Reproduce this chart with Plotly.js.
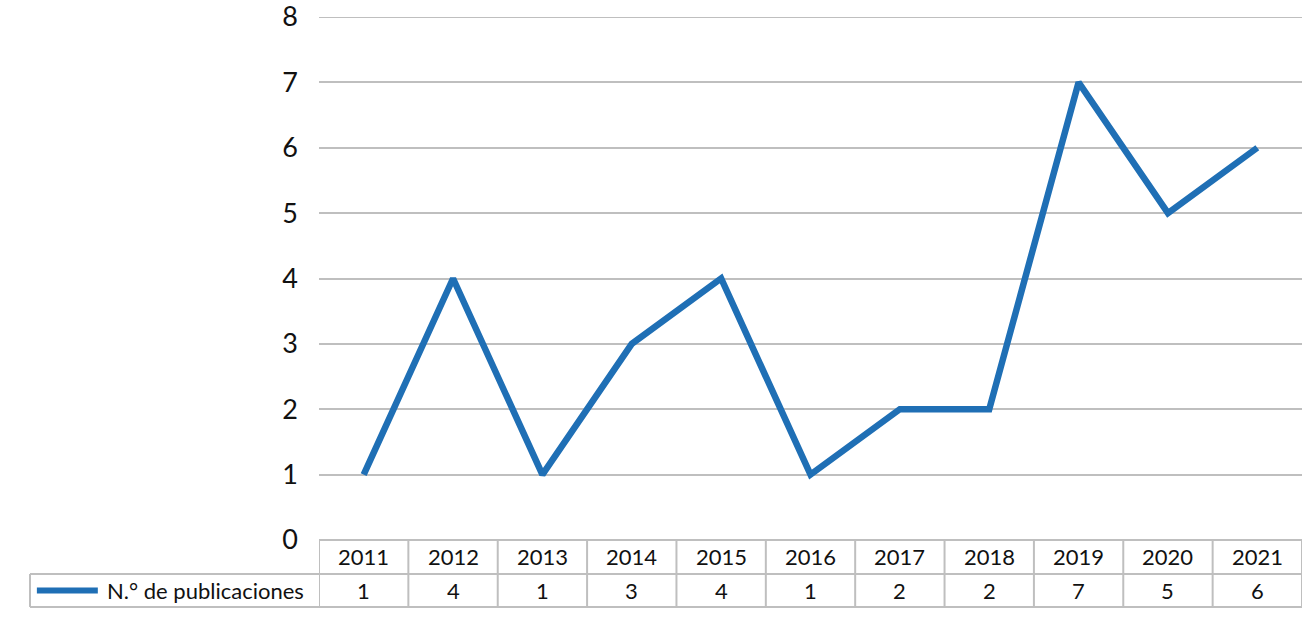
<!DOCTYPE html>
<html>
<head>
<meta charset="utf-8">
<script src="https://cdn.plot.ly/plotly-3.0.1.min.js"></script>
<style>
  html, body { margin: 0; padding: 0; background: #fff; }
  #chart { width: 1310px; height: 619px; }
</style>
</head>
<body>
<div id="chart"></div>
<script>
var years = ['2011', '2012', '2013', '2014', '2015', '2016', '2017', '2018', '2019', '2020', '2021'];
var publicaciones = [1, 4, 1, 3, 4, 1, 2, 2, 7, 5, 6];
var serieName = 'N.° de publicaciones';

var blue = '#1f6fb5';
var grey = '#bfbfbf';
var font = 'Lato, "Open Sans", sans-serif';
var ink = '#111';

var trace = {
    x: years,
    y: publicaciones,
    type: 'scatter',
    mode: 'lines',
    name: serieName,
    line: {color: blue, width: 6.5},
    hoverinfo: 'x+y'
};

// data table under the plot (Excel style)
var rowTop = -0.065, rowBottom = -0.128;   // paper coords
var rowMid = (rowTop + rowBottom) / 2;
var shapes = [];
var annotations = [];

// top gridline (y = 8) sits on the plot edge
shapes.push({type: 'line', xref: 'paper', yref: 'y', x0: 0, x1: 1, y0: 8, y1: 8,
    line: {color: grey, width: 2}});

// horizontal lines of the table
shapes.push({type: 'line', xref: 'paper', yref: 'paper', x0: 0, x1: 1, y0: 0, y1: 0,
    line: {color: grey, width: 2}});
shapes.push({type: 'line', xref: 'paper', yref: 'paper', x0: -0.294, x1: 1, y0: rowTop, y1: rowTop,
    line: {color: grey, width: 2}});
shapes.push({type: 'line', xref: 'paper', yref: 'paper', x0: -0.294, x1: 1, y0: rowBottom, y1: rowBottom,
    line: {color: grey, width: 2}});
shapes.push({type: 'line', xref: 'paper', yref: 'paper', x0: -0.294, x1: -0.294, y0: rowTop, y1: rowBottom,
    line: {color: grey, width: 2}});

// vertical separators between the year columns
for (var i = 0; i <= years.length; i++) {
    shapes.push({type: 'line', xref: 'x', yref: 'paper', x0: i - 0.5, x1: i - 0.5, y0: 0, y1: rowBottom,
        line: {color: grey, width: 2}});
}

// legend key in the first cell
shapes.push({type: 'line', xref: 'paper', yref: 'paper', x0: -0.287, x1: -0.225,
    y0: rowMid, y1: rowMid, line: {color: blue, width: 6}});
annotations.push({xref: 'paper', yref: 'paper', x: -0.218, y: rowMid,
    text: serieName, showarrow: false, xanchor: 'left', yanchor: 'middle',
    font: {family: font, size: 22, color: ink}});

for (var k = 0; k < years.length; k++) {
    annotations.push({xref: 'x', yref: 'paper', x: k, y: rowTop / 2,
        text: years[k], showarrow: false, xanchor: 'center', yanchor: 'middle',
        font: {family: font, size: 22, color: ink}});
    annotations.push({xref: 'x', yref: 'paper', x: k, y: rowMid,
        text: String(publicaciones[k]), showarrow: false, xanchor: 'center', yanchor: 'middle',
        font: {family: font, size: 22, color: ink}});
}

var layout = {
    width: 1310,
    height: 619,
    margin: {l: 319, r: 8, t: 17, b: 79},
    paper_bgcolor: '#fff',
    plot_bgcolor: '#fff',
    showlegend: false,
    xaxis: {
        type: 'category',
        range: [-0.5, years.length - 0.5],
        showticklabels: false,
        showgrid: false,
        zeroline: false,
        ticks: ''
    },
    yaxis: {
        range: [0, 8],
        dtick: 1,
        showgrid: true,
        gridcolor: grey,
        gridwidth: 2,
        zeroline: false,
        ticks: '',
        ticklabelstandoff: 20,
        ticklabeloverflow: 'allow',
        tickfont: {family: font, size: 27, color: ink}
    },
    shapes: shapes,
    annotations: annotations
};

Plotly.newPlot('chart', [trace], layout, {displayModeBar: false});
</script>
</body>
</html>
